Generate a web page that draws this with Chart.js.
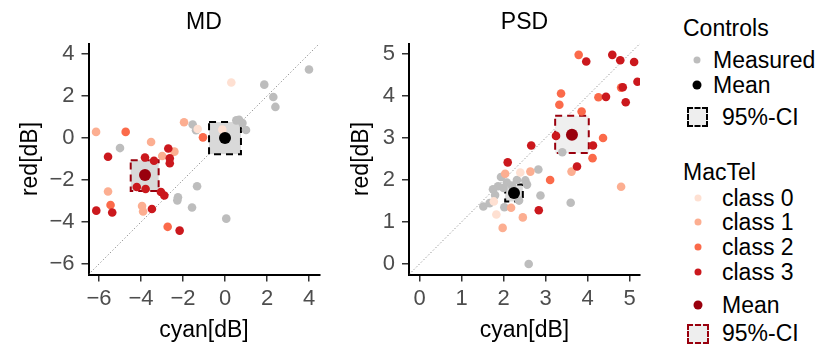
<!DOCTYPE html>
<html><head><meta charset="utf-8">
<script src="https://cdn.jsdelivr.net/npm/chart.js@4/dist/chart.umd.min.js"></script>
<style>
html,body{margin:0;padding:0;background:#fff;width:819px;height:346px;overflow:hidden;font-family:"Liberation Sans",Arial,Helvetica,sans-serif;}
canvas{position:absolute;top:0;}
.t{position:absolute;font-size:23px;line-height:1;color:#000;transform:translateY(-50%);white-space:nowrap;}
.d{position:absolute;border-radius:50%;transform:translate(-50%,-50%);}
.b{position:absolute;box-sizing:border-box;border:2px dashed;}
</style></head><body>
<canvas id="md" width="340" height="346" style="left:0"></canvas>
<canvas id="psd" width="330" height="346" style="left:340px"></canvas>

<div class="t" style="left:683px;top:28px">Controls</div>
<div class="d" style="left:697px;top:60px;width:7px;height:7px;background:#bdbdbd"></div>
<div class="t" style="left:713px;top:60px">Measured</div>
<div class="d" style="left:697px;top:85px;width:9px;height:9px;background:#000"></div>
<div class="t" style="left:713px;top:85px">Mean</div>
<div class="b" style="left:687px;top:107px;width:21px;height:20px;border-color:#000;background:#eeeeee"></div>
<div class="t" style="left:722px;top:117px">95%-CI</div>

<div class="t" style="left:683px;top:172px">MacTel</div>
<div class="d" style="left:698px;top:198px;width:7px;height:7px;background:#fee0d2"></div>
<div class="t" style="left:722px;top:198px">class 0</div>
<div class="d" style="left:698px;top:222px;width:7px;height:7px;background:#fcae91"></div>
<div class="t" style="left:722px;top:222px">class 1</div>
<div class="d" style="left:698px;top:247px;width:7px;height:7px;background:#fb6a4a"></div>
<div class="t" style="left:722px;top:247px">class 2</div>
<div class="d" style="left:698px;top:272px;width:7px;height:7px;background:#cb181d"></div>
<div class="t" style="left:722px;top:272px">class 3</div>
<div class="d" style="left:698px;top:305px;width:9px;height:9px;background:#99000d"></div>
<div class="t" style="left:722px;top:305px">Mean</div>
<div class="b" style="left:687px;top:324px;width:22px;height:20px;border-color:#99000d;background:#eeeeee"></div>
<div class="t" style="left:722px;top:333px">95%-CI</div>

<script>
// ---------- data ----------
const mdTicks = [-6, -4, -2, 0, 2, 4];
const psdTicks = [0, 1, 2, 3, 4, 5];
const mdRange = [-6.5, 4.5];
const psdRange = [-0.25, 5.25];

// MD panel
const mdCtrlX = [4.0, 1.87, 2.3, 2.4, 0.54, 0.67, 0.83, 1.0, -1.54, -1.38, -5.0, -1.33, -2.24, -2.27, -1.57, 0.06];
const mdCtrlY = [3.26, 2.54, 1.95, 1.48, 0.84, 0.87, 0.71, 0.38, 0.64, 0.37, -0.48, -2.3, -2.82, -2.97, -3.31, -3.84];
const mdC0X = [0.3, -1.3, -0.13];
const mdC0Y = [2.64, 0.43, 0.4];
const mdC1X = [-6.14, -1.95, -3.52, -2.99, -2.41, -3.95, -3.9, -5.57];
const mdC1Y = [0.29, 0.75, -0.19, -0.86, -0.65, -3.24, -3.5, -2.55];
const mdC2X = [-4.73, -1.05, -2.73, -5.45];
const mdC2Y = [0.29, 0.03, -4.23, -3.19];
const mdC3X = [-5.57, -2.7, -3.81, -3.38, -2.63, -2.63, -4.2, -3.78, -3.05, -2.89, -6.13, -5.37, -3.48, -2.16];
const mdC3Y = [-0.89, -0.5, -0.93, -1.08, -0.97, -1.2, -2.33, -2.43, -2.57, -2.74, -3.46, -3.55, -3.38, -4.41];
const mdCtrlMean = [0.0, 0.0];
const mdMacMean = [-3.81, -1.76];
const mdCtrlCI = [-0.76, 0.76, -0.77, 0.76];   // x low, x high, y low, y high
const mdMacCI = [-4.49, -3.16, -2.52, -1.06];

// PSD panel
const psdCtrlX = [2.83, 2.88, 2.6, 3.4, 3.6, 1.52, 1.67, 1.8, 1.87, 1.94, 2.0, 2.02, 2.08, 2.32, 2.52, 2.56, 2.37, 1.75, 2.2];
const psdCtrlY = [2.25, 1.63, 0.0, 2.66, 1.46, 1.37, 1.45, 1.64, 1.85, 2.07, 1.81, 1.35, 1.94, 2.0, 1.99, 1.89, 1.51, 1.78, 1.87];
const psdC0X = [2.4, 1.77, 1.83];
const psdC0Y = [2.18, 1.49, 1.18];
const psdC1X = [2.04, 2.64, 2.18, 2.46, 1.98, 3.62, 4.8];
const psdC1Y = [2.15, 2.2, 1.34, 1.11, 0.86, 2.2, 1.84];
const psdC2X = [3.11, 3.86, 3.33, 3.37, 4.26, 4.37, 4.12, 3.79, 4.8];
const psdC2Y = [2.0, 3.63, 3.79, 4.06, 3.97, 3.0, 2.52, 4.98, 4.2];
const psdC3X = [2.1, 2.66, 2.84, 3.25, 3.75, 4.13, 4.44, 4.84, 4.91, 4.59, 4.78, 5.11, 5.19, 3.97];
const psdC3Y = [2.42, 2.82, 1.28, 3.05, 2.32, 2.82, 3.98, 4.21, 3.85, 4.98, 4.85, 4.81, 4.34, 4.82];
const psdCtrlMean = [2.25, 1.69];
const psdMacMean = [3.63, 3.08];
const psdCtrlCI = [2.04, 2.46, 1.49, 1.89];
const psdMacCI = [3.23, 4.03, 2.64, 3.53];

// ---------- styling ----------
const FONT = '"Liberation Sans", Arial, Helvetica, sans-serif';
const COL = {ctrl: '#bdbdbd', c0: '#fee0d2', c1: '#fcae91', c2: '#fb6a4a', c3: '#cb181d', macMean: '#99000d', ctrlMean: '#000000'};
const toPts = (xs, ys) => xs.map((x, i) => ({x: x, y: ys[i]}));
const fmt = v => (v < 0 ? '\u2212' + Math.abs(v) : String(v));

function makePanel(id, p) {
  const CTRL_INDEX = 6;
  const ciPlugin = {
    id: 'ci_' + id,
    beforeDatasetDraw(chart, args) {
      if (args.index !== CTRL_INDEX) return;
      const ctx = chart.ctx, sx = chart.scales.x, sy = chart.scales.y;
      p.boxes.forEach(b => {
        const x0 = sx.getPixelForValue(b.ci[0]), x1 = sx.getPixelForValue(b.ci[1]);
        const y0 = sy.getPixelForValue(b.ci[3]), y1 = sy.getPixelForValue(b.ci[2]);
        ctx.save();
        ctx.fillStyle = b.fill;
        ctx.fillRect(x0, y0, x1 - x0, y1 - y0);
        ctx.setLineDash([7, 5]);
        ctx.lineWidth = 2;
        ctx.strokeStyle = b.stroke;
        ctx.strokeRect(x0, y0, x1 - x0, y1 - y0);
        ctx.restore();
      });
    },
    afterDraw(chart) {
      const ctx = chart.ctx, ca = chart.chartArea;
      ctx.save();
      ctx.font = '23px ' + FONT;
      ctx.fillStyle = '#000';
      ctx.textAlign = 'center';
      ctx.textBaseline = 'middle';
      ctx.fillText(p.title, (ca.left + ca.right) / 2, 23);
      ctx.restore();
    }
  };
  const pt = (data, color, r) => ({data: data, backgroundColor: color, borderWidth: 0, pointRadius: r, pointHoverRadius: r});
  const diag = {
    data: [{x: p.range[0], y: p.range[0]}, {x: p.range[1], y: p.range[1]}],
    showLine: true, pointRadius: 0, borderColor: '#8a8a8a', borderWidth: 1, borderDash: [1.2, 2.2]
  };
  return new Chart(document.getElementById(id), {
    type: 'scatter',
    data: {datasets: [
      pt([{x: p.macMean[0], y: p.macMean[1]}], COL.macMean, 6),
      pt([{x: p.ctrlMean[0], y: p.ctrlMean[1]}], COL.ctrlMean, 6),
      pt(p.c3, COL.c3, 4.3),
      pt(p.c2, COL.c2, 4.3),
      pt(p.c1, COL.c1, 4.3),
      pt(p.c0, COL.c0, 4.3),
      pt(p.ctrl, COL.ctrl, 4.3),
      diag
    ]},
    plugins: [ciPlugin],
    options: {
      responsive: false, animation: false, events: [],
      layout: {padding: {left: 0, right: p.padRight, top: 43.5, bottom: 0}},
      plugins: {legend: {display: false}, tooltip: {enabled: false}},
      scales: {
        x: {
          type: 'linear', min: p.range[0], max: p.range[1],
          afterBuildTicks: s => { s.ticks = p.ticks.map(v => ({value: v})); },
          afterFit: s => { s.height = 71.5; },
          border: {display: true, color: '#000', width: 2},
          grid: {display: true, drawOnChartArea: false, drawTicks: true, tickLength: 7, color: '#333', lineWidth: 1.5},
          ticks: {callback: fmt, color: '#4d4d4d', font: {size: 22, family: FONT}, padding: 4, maxRotation: 0, autoSkip: false},
          title: {display: true, text: 'cyan[dB]', color: '#000', font: {size: 23, family: FONT}, padding: {top: 0, bottom: 1.2}}
        },
        y: {
          type: 'linear', min: p.range[0], max: p.range[1],
          afterBuildTicks: s => { s.ticks = p.ticks.map(v => ({value: v})); },
          afterFit: s => { s.width = p.yWidth; },
          border: {display: true, color: '#000', width: 2},
          grid: {display: true, drawOnChartArea: false, drawTicks: true, tickLength: 7, color: '#333', lineWidth: 1.5},
          ticks: {callback: fmt, color: '#4d4d4d', font: {size: 22, family: FONT}, padding: 7, autoSkip: false},
          title: {display: true, text: 'red[dB]', color: '#000', font: {size: 23, family: FONT}, padding: {top: p.yTitlePad, bottom: 0}}
        }
      }
    }
  });
}

makePanel('md', {
  title: 'MD', range: mdRange, ticks: mdTicks, padRight: 20.5, yWidth: 88.5, yTitlePad: 17.2,
  ctrl: toPts(mdCtrlX, mdCtrlY), c0: toPts(mdC0X, mdC0Y), c1: toPts(mdC1X, mdC1Y),
  c2: toPts(mdC2X, mdC2Y), c3: toPts(mdC3X, mdC3Y),
  ctrlMean: mdCtrlMean, macMean: mdMacMean,
  boxes: [{ci: mdCtrlCI, fill: '#d9d9d9', stroke: '#000'}, {ci: mdMacCI, fill: '#d9d9d9', stroke: '#99000d'}]
});
makePanel('psd', {
  title: 'PSD', range: psdRange, ticks: psdTicks, padRight: 30, yWidth: 69, yTitlePad: 7.5,
  ctrl: toPts(psdCtrlX, psdCtrlY), c0: toPts(psdC0X, psdC0Y), c1: toPts(psdC1X, psdC1Y),
  c2: toPts(psdC2X, psdC2Y), c3: toPts(psdC3X, psdC3Y),
  ctrlMean: psdCtrlMean, macMean: psdMacMean,
  boxes: [{ci: psdCtrlCI, fill: '#dcdcdc', stroke: '#000'}, {ci: psdMacCI, fill: '#efefef', stroke: '#99000d'}]
});
</script>
</body></html>
